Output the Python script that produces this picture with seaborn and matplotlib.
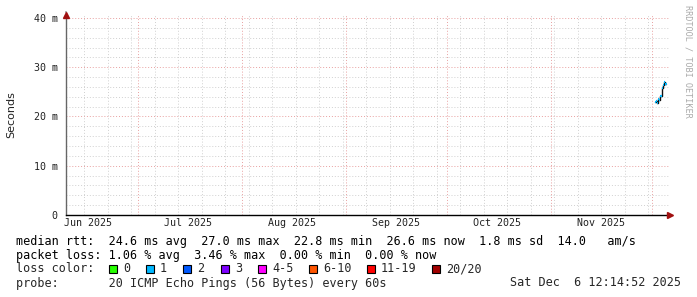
import matplotlib
matplotlib.use("Agg")
import matplotlib.pyplot as plt
import seaborn as sns
import pandas as pd
import numpy as np

# ---- data ----
times = ["2025-12-02 00:00", "2025-12-02 08:00", "2025-12-02 16:00", "2025-12-03 00:00",
         "2025-12-03 08:00", "2025-12-03 16:00", "2025-12-04 00:00", "2025-12-04 08:00",
         "2025-12-04 16:00", "2025-12-05 00:00", "2025-12-05 08:00"]
median_ms = [22.9, 23.2, 22.8, 23.6, 23.4, 24.2, 25.8, 26.4, 27.0, 26.6, 26.6]
loss_pct = [0.8, 1.2, 0.5, 1.0, 3.46, 1.1, 0.9, 0.6, 1.3, 0.4, 0.4]

month_labels = ["Jun 2025", "Jul 2025", "Aug 2025", "Sep 2025", "Oct 2025", "Nov 2025"]
ytick_values = [0, 10, 20, 30, 40]
ytick_labels = ["0", "10 m", "20 m", "30 m", "40 m"]

loss_names = ["0", "1", "2", "3", "4-5", "6-10", "11-19", "20/20"]
loss_colors = ["#26ff00", "#00b8ff", "#0059ff", "#7e00ff", "#ff00ff", "#ff5500", "#ff0000", "#a10000"]

legend_lines = [
    "median rtt:  24.6 ms avg  27.0 ms max  22.8 ms min  26.6 ms now  1.8 ms sd  14.0   am/s",
    "packet loss: 1.06 % avg  3.46 % max  0.00 % min  0.00 % now",
]
probe_text = "probe:       20 ICMP Echo Pings (56 Bytes) every 60s"
date_text = "Sat Dec  6 12:14:52 2025"

x_start = "2025-06-09 12:14:52"
x_end = "2025-12-06 12:14:52"

# ---- plot ----
sns.set_theme(style="white")
plt.rcParams['font.family'] = ['DejaVu Sans']
mono = "DejaVu Sans Mono"

W, H = 697, 297
fig = plt.figure(figsize=(W / 100, H / 100), dpi=100)
ax = fig.add_axes([66 / W, 82 / H, (670 - 66) / W, 200 / H])
ax.set_facecolor("white")

df = pd.DataFrame({"t": pd.to_datetime(times), "ms": median_ms, "loss": loss_pct})

xs = pd.Timestamp(x_start)
xe = pd.Timestamp(x_end)
ax.set_xlim(xs, xe)
ax.set_ylim(0, 40.6)

# grid
grid_minor = dict(color="#d0d0d0", linestyle=(0, (1, 2)), linewidth=0.7, zorder=0)
grid_major = dict(color="#e8a0a0", linestyle=(0, (1, 2)), linewidth=0.7, zorder=0)
for v in np.arange(2, 41, 2):
    if v % 10 != 0:
        ax.axhline(v, **grid_minor)
for v in ytick_values[1:]:
    ax.axhline(v, **grid_major)
weeks = pd.date_range("2025-06-15", xe, freq="7D")
for w in weeks:
    ax.axvline(w, **grid_minor)
months = pd.date_range("2025-07-01", xe, freq="MS")
for m in months:
    ax.axvline(m, **grid_major)

# median line (steps) and loss-coloured segments
sns.lineplot(data=df, x="t", y="ms", drawstyle="steps-post", color="#111111",
             linewidth=1.0, ax=ax, zorder=3)

def loss_color(p):
    n = p / 100 * 20
    if n <= 0:
        return loss_colors[0]
    if n <= 1:
        return loss_colors[1]
    if n <= 2:
        return loss_colors[2]
    if n <= 3:
        return loss_colors[3]
    if n <= 5:
        return loss_colors[4]
    if n <= 10:
        return loss_colors[5]
    if n < 20:
        return loss_colors[6]
    return loss_colors[7]

t_next = list(df["t"].iloc[1:]) + [df["t"].iloc[-1] + pd.Timedelta(hours=4)]
ax.hlines(df["ms"], df["t"], t_next, colors=[loss_color(p) for p in df["loss"]],
          linewidth=1.6, zorder=4)

# axes styling
for s in ["top", "right"]:
    ax.spines[s].set_visible(False)
ax.spines["left"].set_color("#666666")
ax.spines["left"].set_linewidth(1.0)
ax.spines["bottom"].set_color("#000000")
ax.spines["bottom"].set_linewidth(1.0)

ax.set_yticks(ytick_values)
ax.set_yticklabels(ytick_labels, fontfamily=mono, fontsize=7.2, color="#222222")
ax.tick_params(axis="y", length=3, width=0.8, color="#666666", pad=3)

mid = [pd.Timestamp(f"2025-{m:02d}-16") for m in range(6, 12)]
ax.set_xticks(mid)
ax.set_xticklabels(month_labels, fontfamily=mono, fontsize=7.2, color="#222222")
ax.tick_params(axis="x", length=0, pad=2)
ax.set_xlabel("")
ax.set_ylabel("Seconds", fontsize=8, color="#222222")
ax.yaxis.set_label_coords(-(66 - 16) / (670 - 66), 0.5)

# arrows
ax.plot([0], [1.0], marker="^", color="#a01010", markersize=4, transform=ax.transAxes,
        clip_on=False, zorder=6)
ax.plot([1.0], [0], marker=">", color="#a01010", markersize=4, transform=ax.transAxes,
        clip_on=False, zorder=6)
ax.annotate("", xy=(0, 1.03), xytext=(0, 1.0), xycoords="axes fraction",
            arrowprops=dict(arrowstyle="-", color="#666666", lw=1.0))

# watermark
fig.text(688 / W, 1 - 5 / H, "RRDTOOL / TOBI OETIKER", rotation=270, fontsize=6.1,
         color="#aaaaaa", fontfamily=mono, ha="center", va="top")

# legend text
fs = 8.5
def px(x, y):
    return x / W, 1 - y / H

for i, line in enumerate(legend_lines):
    fig.text(*px(16, 242 + 13.7 * i), line, fontfamily=mono, fontsize=fs,
             color="#000000", ha="left", va="center")

fig.text(*px(16, 269), "loss color:", fontfamily=mono, fontsize=fs, ha="left", va="center")
box_x = [109, 146, 183, 221, 258, 309, 367, 432]
for bx, name, col in zip(box_x, loss_names, loss_colors):
    fig.patches.append(plt.Rectangle(px(bx, 273), 8 / W, 8 / H,
                                     transform=fig.transFigure, facecolor=col,
                                     edgecolor="#000000", linewidth=0.8))
    fig.text(*px(bx + 14, 269), name, fontfamily=mono, fontsize=fs, ha="left", va="center")

fig.text(*px(16, 283), probe_text, fontfamily=mono, fontsize=fs, ha="left", va="center")
fig.text(*px(681, 283), date_text, fontfamily=mono, fontsize=fs, ha="right", va="center")

fig.savefig("out.png", dpi=100, facecolor="white")
